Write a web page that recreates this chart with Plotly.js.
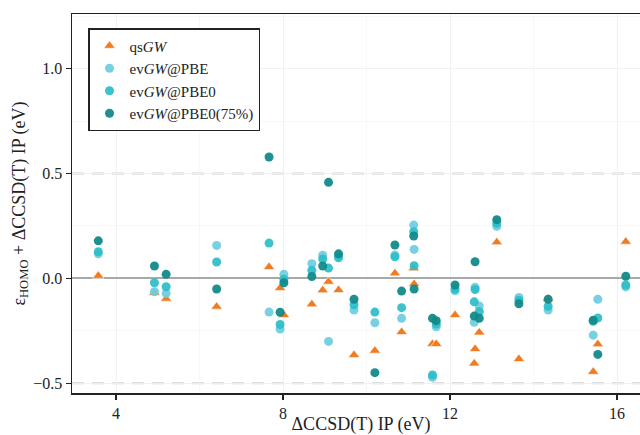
<!DOCTYPE html>
<html>
<head>
<meta charset="utf-8">
<script src="https://cdn.plot.ly/plotly-3.0.1.min.js"></script>
<style>
html,body{margin:0;padding:0;overflow:hidden;background:#fff;width:640px;height:435px;}
#chart{width:660px;height:435px;}
</style>
</head>
<body>
<div id="chart"></div>
<script>
// ΔCCSD(T) IP of each molecule (eV)
const ip = [3.575, 4.92, 5.20, 6.41, 7.665, 7.93, 8.02, 8.69, 8.95, 9.09, 9.33, 9.70, 10.20, 10.68, 10.84, 11.13, 11.14, 11.58, 11.67, 12.12, 12.60, 12.58, 12.70, 13.12, 13.65, 14.35, 15.43, 15.54, 16.21];
// ε_HOMO + ΔCCSD(T) IP (eV)
const qsGW = [0.012, -0.069, -0.097, -0.135, 0.054, -0.046, -0.175, -0.124, -0.057, -0.016, -0.056, -0.366, -0.345, 0.024, -0.256, 0.048, -0.027, -0.313, -0.313, -0.175, -0.337, -0.406, -0.258, 0.172, -0.385, -0.097, -0.446, -0.314, 0.175];
const evGW_PBE = [0.117, -0.064, -0.072, 0.157, -0.161, -0.242, 0.019, 0.070, 0.110, -0.301, 0.105, -0.151, -0.212, 0.111, -0.191, 0.254, 0.138, -0.472, -0.231, -0.059, -0.043, -0.210, -0.132, 0.248, -0.091, -0.151, -0.271, -0.100, -0.041];
const evGW_PBE0 = [0.127, -0.021, -0.040, 0.078, 0.168, -0.220, -0.004, 0.038, 0.092, 0.049, 0.098, -0.126, -0.161, 0.103, -0.140, 0.222, 0.060, -0.461, -0.218, -0.051, -0.053, -0.112, -0.159, 0.262, -0.104, -0.133, -0.205, -0.189, -0.032];
const evGW_PBE0_75 = [0.179, 0.059, 0.019, -0.051, 0.579, -0.162, -0.021, 0.009, 0.059, 0.458, 0.117, -0.100, -0.450, 0.159, -0.061, 0.202, -0.051, -0.191, -0.202, -0.032, 0.079, -0.180, -0.191, 0.280, -0.121, -0.100, -0.200, -0.363, 0.010];

const seriesNames = ['qs<i>GW</i>', 'ev<i>GW</i>@PBE', 'ev<i>GW</i>@PBE0', 'ev<i>GW</i>@PBE0(75%)'];
const refLines = [-0.5, 0.5];
const xTicks = [4, 8, 12, 16];
const yTicks = [-0.5, 0.0, 0.5, 1.0];

const font = 'Liberation Serif, Times New Roman, serif';

const traces = [
  {x: ip, y: qsGW, name: seriesNames[0], type: 'scatter', mode: 'markers',
   marker: {symbol: 'triangle-up', size: 10, color: '#F07C22', line: {color: '#ffffff', width: 0.6}}},
  {x: ip, y: evGW_PBE, name: seriesNames[1], type: 'scatter', mode: 'markers',
   marker: {symbol: 'circle', size: 9, color: '#6CCDDF', opacity: 0.92}},
  {x: ip, y: evGW_PBE0, name: seriesNames[2], type: 'scatter', mode: 'markers',
   marker: {symbol: 'circle', size: 9, color: '#2BBDC8', opacity: 0.92}},
  {x: ip, y: evGW_PBE0_75, name: seriesNames[3], type: 'scatter', mode: 'markers',
   marker: {symbol: 'circle', size: 9, color: '#128A8A', opacity: 0.95}}
];

const shapes = refLines.map(v => ({
  type: 'line', xref: 'paper', x0: 0, x1: 1, yref: 'y', y0: v, y1: v,
  line: {color: '#D3D3D3', width: 2, dash: '12px,8px'}, layer: 'below'
}));

const layout = {
  width: 660, height: 435,
  margin: {l: 72, r: 10, t: 14, b: 42},
  paper_bgcolor: '#ffffff', plot_bgcolor: '#ffffff',
  font: {family: font, color: '#222222', size: 15},
  showlegend: true,
  legend: {
    x: 0.0277, y: 0.963, xanchor: 'left', yanchor: 'top',
    bordercolor: '#222222', borderwidth: 1.5, bgcolor: '#ffffff',
    font: {family: font, size: 15, color: '#222222'}
  },
  xaxis: {
    range: [2.945, 16.79],
    tickvals: xTicks, ticktext: xTicks.map(String),
    ticks: 'outside', ticklen: 5, tickwidth: 1.2, tickcolor: '#222222',
    showline: true, linecolor: '#222222', linewidth: 1.5, mirror: true,
    showgrid: true, gridcolor: '#EFEFEF', gridwidth: 0.8,
    minor: {dtick: 2, tick0: 0, showgrid: true, gridcolor: '#F4F4F4', gridwidth: 0.6},
    zeroline: false,
    tickfont: {family: font, size: 16, color: '#222222'},
    title: {text: 'ΔCCSD(T) IP (eV)', font: {family: font, size: 18, color: '#222222'}, standoff: 3}
  },
  yaxis: {
    range: [-0.547, 1.261],
    tickvals: yTicks, ticktext: ['−0.5', '0.0', '0.5', '1.0'],
    ticks: 'outside', ticklen: 5, tickwidth: 1.2, tickcolor: '#222222',
    showline: true, linecolor: '#222222', linewidth: 1.5, mirror: true,
    showgrid: true, gridcolor: '#EFEFEF', gridwidth: 0.8,
    minor: {dtick: 0.25, tick0: 0, showgrid: true, gridcolor: '#F4F4F4', gridwidth: 0.6},
    zeroline: true, zerolinecolor: '#A8A8A8', zerolinewidth: 2,
    tickfont: {family: font, size: 16, color: '#222222'},
    title: {text: 'ε<sub>HOMO</sub> + ΔCCSD(T) IP (eV)', font: {family: font, size: 18, color: '#222222'}, standoff: 3}
  },
  shapes: shapes
};

Plotly.newPlot('chart', traces, layout, {displayModeBar: false, staticPlot: true});
</script>
</body>
</html>
